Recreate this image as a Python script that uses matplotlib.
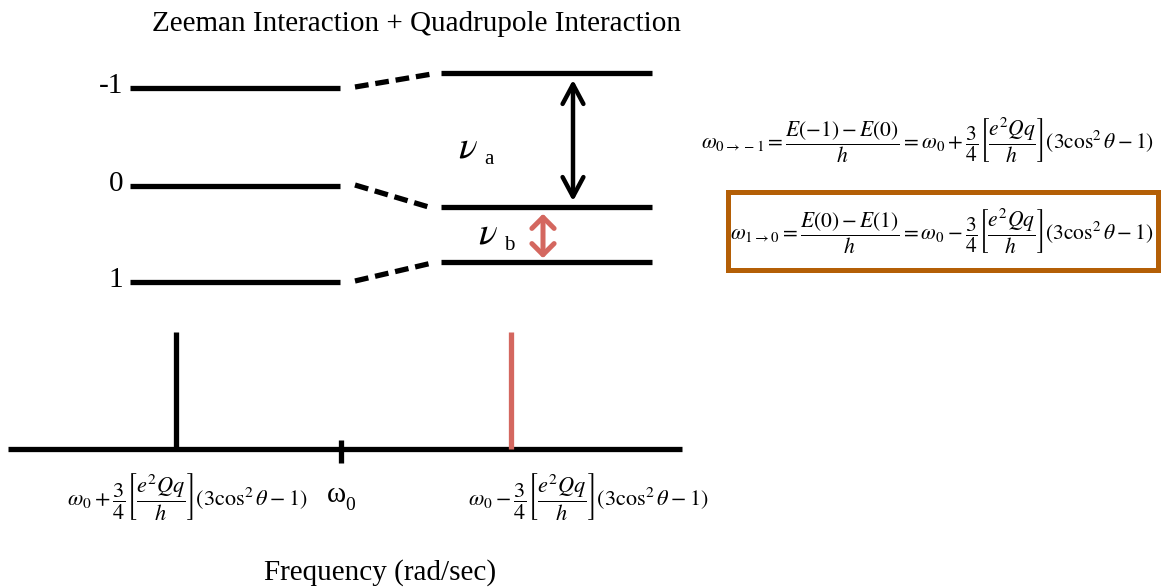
import matplotlib
matplotlib.use("Agg")
import matplotlib.pyplot as plt
from matplotlib.patches import Rectangle

plt.rcParams['mathtext.fontset'] = 'stix'
plt.rcParams['font.family'] = ['Liberation Serif', 'DejaVu Serif']

# energy levels (pixel space, y grows downward)
level_names = ["-1", "0", "1"]
zeeman_y = [88, 186, 282]
quad_y = [73, 207, 262]
left_x = (130, 340)
right_x = (441, 652)

# spectrum lines on the frequency axis
line_x = [176, 511]
line_colors = ["black", "#d4675f"]
omega0_x = 341
axis_y = 449
line_top = 332

BLACK = "black"
RED = "#d4675f"
BOX = "#b45f06"

fig = plt.figure(figsize=(11.61, 5.88), dpi=100)
ax = fig.add_axes([0, 0, 1, 1])
ax.set_xlim(0, 1161)
ax.set_ylim(588, 0)
ax.axis("off")

ax.text(416, 24, "Zeeman Interaction + Quadrupole Interaction",
        ha="center", va="center", fontsize=21)

# level diagram
for name, y0, y1 in zip(level_names, zeeman_y, quad_y):
    ax.plot(left_x, [y0, y0], color=BLACK, lw=3.8, solid_capstyle="butt")
    ax.plot(right_x, [y1, y1], color=BLACK, lw=3.8, solid_capstyle="butt")
    ax.plot([355, 432], [y0 - 1, y1 + 1], color=BLACK, lw=3.8,
            linestyle=(0, (2.6, 1.3)), dash_capstyle="butt")
    ax.text(123, y0 - 2, name, ha="right", va="center", fontsize=21)

# transitions
ax.annotate("", xy=(573, quad_y[0] + 4), xytext=(573, quad_y[1] - 3),
            arrowprops=dict(arrowstyle="<->,head_length=1.4,head_width=0.75",
                            color=BLACK, lw=3.2))
ax.annotate("", xy=(543, quad_y[1] + 4), xytext=(543, quad_y[2] - 1),
            arrowprops=dict(arrowstyle="<->,head_length=0.8,head_width=0.8",
                            color=RED, lw=3.6))
ax.text(458, 148, r"$\nu$", fontsize=28, ha="left", va="center")
ax.text(484, 160, "a", fontsize=15, ha="left", va="center")
ax.text(478, 234, r"$\nu$", fontsize=28, ha="left", va="center")
ax.text(504, 246, "b", fontsize=15, ha="left", va="center")

# transition frequency formulas
eq_a = (r"$\omega_{0\rightarrow -1} = \dfrac{E(-1)-E(0)}{h} = \omega_0 + "
        r"\dfrac{3}{4}\left[\dfrac{e^2Qq}{h}\right](3\cos^2\theta - 1)$")
eq_b = (r"$\omega_{1\rightarrow 0} = \dfrac{E(0)-E(1)}{h} = \omega_0 - "
        r"\dfrac{3}{4}\left[\dfrac{e^2Qq}{h}\right](3\cos^2\theta - 1)$")
ax.text(928, 140, eq_a, ha="center", va="center", fontsize=15.5)
ax.add_patch(Rectangle((728, 192), 430, 78, fill=False, edgecolor=BOX, lw=3.6))
ax.text(942, 231, eq_b, ha="center", va="center", fontsize=15.5)

# frequency axis and spectrum
ax.plot([8, 682], [axis_y, axis_y], color=BLACK, lw=3.8, solid_capstyle="butt")
ax.plot([omega0_x, omega0_x], [440, 463], color=BLACK, lw=3.8, solid_capstyle="butt")
for x, c in zip(line_x, line_colors):
    ax.plot([x, x], [line_top, axis_y], color=c, lw=3.8, solid_capstyle="butt")

lab_plus = (r"$\omega_0 + \dfrac{3}{4}\left[\dfrac{e^2Qq}{h}\right]"
            r"(3\cos^2\theta - 1)$")
lab_minus = (r"$\omega_0 - \dfrac{3}{4}\left[\dfrac{e^2Qq}{h}\right]"
             r"(3\cos^2\theta - 1)$")
ax.text(187, 497, lab_plus, ha="center", va="center", fontsize=16)
ax.text(588, 497, lab_minus, ha="center", va="center", fontsize=16)
ax.text(327, 495, "ω", ha="left", va="center", fontsize=21)
ax.text(345, 505, "0", ha="left", va="center", fontsize=14)

ax.text(380, 573, "Frequency (rad/sec)", ha="center", va="center", fontsize=21)

fig.savefig("out.png", dpi=100)
